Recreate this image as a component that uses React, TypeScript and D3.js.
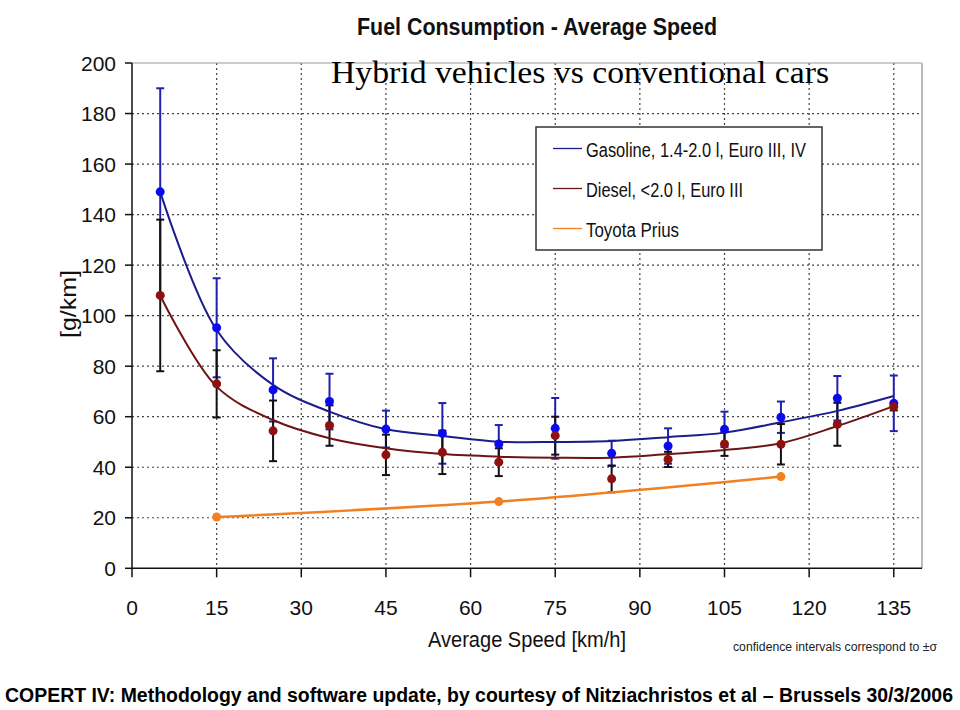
import React from "react";
import * as d3 from "d3";

const speeds = [5, 15, 25, 35, 45, 55, 65, 75, 85, 95, 105, 115, 125, 135];
const gasMean = [149, 95.2, 70.6, 66, 55.1, 53.4, 49.2, 55.4, 45.5, 48.4, 55, 59.8, 67.3, 65.3];
const gasErr = [41, 19.6, 12.5, 11, 7.3, 12, 7.5, 12, 5, 7, 7, 6.2, 8.8, 11];
const gasFit = [149, 94.3, 72.6, 62, 55, 52.4, 50.1, 50, 50.4, 51.9, 53.7, 57.8, 62.3, 68.2];
const dieselMean = [108, 73, 54.4, 56.5, 44.9, 45.9, 42, 52.5, 35.4, 43.1, 49.2, 49.1, 57, 64];
const dieselErr = [30, 13.3, 12, 8, 8, 8.6, 5.5, 7.5, 5.3, 3, 4.7, 8, 8.5, 1.5];
const dieselFit = [108, 71.9, 58.7, 51.5, 47.5, 45.2, 44.2, 43.8, 43.8, 45.2, 46.8, 49.5, 56.3, 64.2];
const priusSpeeds = [15, 65, 115];
const priusVals = [20.3, 26.4, 36.3];

const xTicks = [0, 15, 30, 45, 60, 75, 90, 105, 120, 135];
const yTicks = [0, 20, 40, 60, 80, 100, 120, 140, 160, 180, 200];

const legendLabels = ["Gasoline, 1.4-2.0 l, Euro III, IV", "Diesel, <2.0 l, Euro III", "Toyota Prius"];
const legendColors = ["#1c1c8a", "#6e1414", "#f08020"];
const legendWidths = [220, 157, 93];

const GAS_LINE = "#1c1c8a";
const GAS_PT = "#0a0af0";
const GAS_ERR = "#2020b0";
const DIE_LINE = "#6e1414";
const DIE_PT = "#8e1010";
const DIE_ERR = "#111";
const PRIUS = "#f08020";

export default function App() {
  const x = d3.scaleLinear().domain([0, 140]).range([132, 922]);
  const y = d3.scaleLinear().domain([0, 200]).range([568.3, 63]);
  const font = "'Liberation Sans', Arial, sans-serif";

  const line = d3
    .line<[number, number]>()
    .x((d) => x(d[0]))
    .y((d) => y(d[1]))
    .curve(d3.curveCatmullRom.alpha(0.5));

  const gasPts = speeds.map((s, i) => [s, gasFit[i]] as [number, number]);
  const diePts = speeds.map((s, i) => [s, dieselFit[i]] as [number, number]);
  const priPts = priusSpeeds.map((s, i) => [s, priusVals[i]] as [number, number]);

  const errBars = (mean: number[], err: number[], color: string, key: string) =>
    speeds.map((s, i) => {
      const cx = x(s);
      const y1 = y(mean[i] + err[i]);
      const y2 = y(mean[i] - err[i]);
      return (
        <g key={key + i} stroke={color} strokeWidth={2}>
          <line x1={cx} x2={cx} y1={y1} y2={y2} />
          <line x1={cx - 4} x2={cx + 4} y1={y1} y2={y1} />
          <line x1={cx - 4} x2={cx + 4} y1={y2} y2={y2} />
        </g>
      );
    });

  return (
    <svg
      width={960}
      height={710}
      style={{ position: "absolute", left: 0, top: 0, background: "#fff" }}
    >
      {/* grid */}
      {xTicks.filter((t) => t > 0).map((t) => (
        <line key={"gx" + t} x1={x(t)} x2={x(t)} y1={y(200)} y2={y(0)} stroke="#444" strokeWidth={1.2} strokeDasharray="2,3" />
      ))}
      {yTicks.filter((t) => t > 0 && t < 200).map((t) => (
        <line key={"gy" + t} x1={x(0)} x2={x(140)} y1={y(t)} y2={y(t)} stroke="#444" strokeWidth={1.2} strokeDasharray="2,3" />
      ))}
      {/* borders */}
      <line x1={x(0)} x2={x(140)} y1={y(200)} y2={y(200)} stroke="#999" strokeWidth={1} />
      <line x1={x(140)} x2={x(140)} y1={y(200)} y2={y(0)} stroke="#bbb" strokeWidth={2} />
      <line x1={x(0)} x2={x(0)} y1={y(200)} y2={y(0)} stroke="#111" strokeWidth={1.5} />
      <line x1={x(0)} x2={x(140)} y1={y(0)} y2={y(0)} stroke="#111" strokeWidth={1.5} />

      {/* ticks */}
      {xTicks.map((t) => (
        <g key={"xt" + t}>
          <line x1={x(t)} x2={x(t)} y1={y(0)} y2={y(0) + 9} stroke="#111" strokeWidth={1.5} />
          <text x={x(t)} y={615} textAnchor="middle" fontFamily={font} fontSize={21} fill="#111">
            {t}
          </text>
        </g>
      ))}
      {yTicks.map((t) => (
        <g key={"yt" + t}>
          <line x1={x(0) - 7} x2={x(0)} y1={y(t)} y2={y(t)} stroke="#111" strokeWidth={1.5} />
          <text x={116} y={y(t) + 7.5} textAnchor="end" fontFamily={font} fontSize={21} fill="#111">
            {t}
          </text>
        </g>
      ))}

      {/* axis labels */}
      <text
        transform="translate(76,304) rotate(-90)"
        textAnchor="middle"
        fontFamily={font}
        fontSize={22}
        fill="#111"
        textLength={68}
        lengthAdjust="spacingAndGlyphs"
      >
        [g/km]
      </text>
      <text x={428} y={647} fontFamily={font} fontSize={22} fill="#111" textLength={198} lengthAdjust="spacingAndGlyphs">
        Average Speed [km/h]
      </text>
      <text x={733} y={651} fontFamily={font} fontSize={12.5} fill="#222" textLength={204} lengthAdjust="spacingAndGlyphs">
        confidence intervals correspond to ±σ
      </text>

      {/* titles */}
      <text x={357} y={35} fontFamily={font} fontWeight="bold" fontSize={23} fill="#111" textLength={360} lengthAdjust="spacingAndGlyphs">
        Fuel Consumption - Average Speed
      </text>
      <text x={331} y={83} fontFamily="'Liberation Serif', 'Times New Roman', serif" fontSize={32} fill="#000" textLength={498} lengthAdjust="spacingAndGlyphs">
        Hybrid vehicles vs conventional cars
      </text>

      {/* error bars */}
      {errBars(gasMean, gasErr, GAS_ERR, "ge")}
      {errBars(dieselMean, dieselErr, DIE_ERR, "de")}

      {/* fitted lines */}
      <path d={line(gasPts) || ""} fill="none" stroke={GAS_LINE} strokeWidth={2} />
      <path d={line(diePts) || ""} fill="none" stroke={DIE_LINE} strokeWidth={2} />
      <path d={line(priPts) || ""} fill="none" stroke={PRIUS} strokeWidth={2.5} />

      {/* points */}
      {speeds.map((s, i) => (
        <circle key={"gp" + i} cx={x(s)} cy={y(gasMean[i])} r={4.5} fill={GAS_PT} />
      ))}
      {speeds.map((s, i) => (
        <circle key={"dp" + i} cx={x(s)} cy={y(dieselMean[i])} r={4.5} fill={DIE_PT} />
      ))}
      {priusSpeeds.map((s, i) => (
        <circle key={"pp" + i} cx={x(s)} cy={y(priusVals[i])} r={4.5} fill={PRIUS} />
      ))}

      {/* legend */}
      <rect x={536} y={127} width={286} height={123} fill="#fff" stroke="#333" strokeWidth={1.5} />
      {legendLabels.map((lab, i) => (
        <g key={"lg" + i}>
          <line x1={553} x2={582} y1={148.5 + i * 40} y2={148.5 + i * 40} stroke={legendColors[i]} strokeWidth={1.3} />
          <text x={586} y={156.5 + i * 40} fontFamily={font} fontSize={20} fill="#111" textLength={legendWidths[i]} lengthAdjust="spacingAndGlyphs">
            {lab}
          </text>
        </g>
      ))}

      {/* footer */}
      <text x={5} y={702} fontFamily={font} fontWeight="bold" fontSize={19.5} fill="#000" textLength={948} lengthAdjust="spacingAndGlyphs">
        COPERT IV: Methodology and software update, by courtesy of Nitziachristos et al – Brussels 30/3/2006
      </text>
    </svg>
  );
}
